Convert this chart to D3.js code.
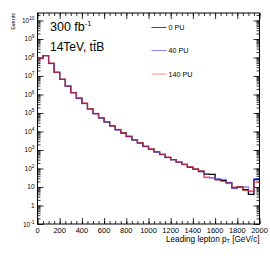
<!DOCTYPE html>
<html>
<head>
<meta charset="utf-8">
<script src="https://cdn.jsdelivr.net/npm/d3@7"></script>
<style>
  body { margin: 0; background: #fff; }
  text { font-family: "Liberation Sans", Arial, Helvetica, sans-serif; fill: #000; }
</style>
</head>
<body>
<svg width="270" height="259"></svg>
<script>
// bins are 50 GeV wide, 0 - 2000
var binWidth = 50;
var binLow = d3.range(0, 2000, binWidth);

var pu0 = [8.9e7, 1.26e8, 4.8e7, 1.58e7, 6.6e6, 2.8e6, 1.26e6, 6.3e5, 3.3e5, 1.66e5,
           9.3e4, 5.5e4, 3.3e4, 2.0e4, 1.26e4, 8300, 5400, 3550, 2400, 1580,
           1120, 790, 575, 400, 300, 220, 166, 120, 93, 71,
           50, 48, 25, 22, 16.6, 8.9, 10, 7.1, 4.0, 25];
var pu40 = [8.8e7, 1.25e8, 4.7e7, 1.6e7, 6.5e6, 2.75e6, 1.24e6, 6.0e5, 3.2e5, 1.62e5,
            9.0e4, 5.3e4, 3.2e4, 2.05e4, 1.2e4, 8000, 5200, 3500, 2300, 1540,
            1080, 760, 560, 390, 290, 215, 160, 118, 90, 66,
            32, 30, 28, 26, 18, 8.5, 9.6, 10, 5.6, 28];
var pu140 = [9.0e7, 1.27e8, 4.9e7, 1.55e7, 6.7e6, 2.85e6, 1.28e6, 6.5e5, 3.4e5, 1.7e5,
             9.6e4, 5.6e4, 3.4e4, 1.95e4, 1.3e4, 8500, 5600, 3600, 2450, 1620,
             1150, 810, 590, 410, 305, 225, 170, 125, 95, 72,
             35, 32, 24, 20, 16, 10, 10, 6.6, 6.3, 17.8];

var seriesNames = ["0 PU", "40 PU", "140 PU"];
var seriesColors = ["#000000", "#3333ff", "#ff3333"];
var seriesOpacity = [1, 0.6, 0.6];

var xTicks = [0, 200, 400, 600, 800, 1000, 1200, 1400, 1600, 1800, 2000];
var yExponents = [-1, 0, 1, 2, 3, 4, 5, 6, 7, 8, 9, 10];

var svg = d3.select("svg");
var padL = 37.5, padR = 259.5, padT = 13, padB = 224;

var x = d3.scaleLinear().domain([0, 2000]).range([padL, padR]);
var y = d3.scaleLog().domain([0.1, 2.54e10]).range([padB, padT]);

// ---- axes (ROOT style, ticks pointing inward) ----
var minorX = d3.range(0, 2001, 50);
var minorY = [];
for (var e = -1; e <= 10; e++) {
  for (var m = 1; m < 10; m++) {
    var v = m * Math.pow(10, e);
    if (v <= 2.54e10) minorY.push(v);
  }
}

function addAxis(axis, tx, ty) {
  var g = svg.append("g").attr("transform", "translate(" + tx + "," + ty + ")").call(axis);
  g.select(".domain").remove();
  g.selectAll("text").remove();
  g.selectAll("line").attr("stroke", "#000").attr("stroke-width", 0.8);
  return g;
}

addAxis(d3.axisBottom(x).tickValues(xTicks).tickSize(-6).tickFormat(""), 0, padB);
addAxis(d3.axisBottom(x).tickValues(minorX).tickSize(-3).tickFormat(""), 0, padB);
addAxis(d3.axisTop(x).tickValues(xTicks).tickSize(-6).tickFormat(""), 0, padT);
addAxis(d3.axisTop(x).tickValues(minorX).tickSize(-3).tickFormat(""), 0, padT);

var majorY = yExponents.map(function (e) { return Math.pow(10, e); });
addAxis(d3.axisLeft(y).tickValues(majorY).tickSize(-6).tickFormat(""), padL, 0);
addAxis(d3.axisLeft(y).tickValues(minorY).tickSize(-3).tickFormat(""), padL, 0);
addAxis(d3.axisRight(y).tickValues(majorY).tickSize(-6).tickFormat(""), padR, 0);
addAxis(d3.axisRight(y).tickValues(minorY).tickSize(-3).tickFormat(""), padR, 0);

// frame
svg.append("rect")
  .attr("x", padL).attr("y", padT)
  .attr("width", padR - padL).attr("height", padB - padT)
  .attr("fill", "none").attr("stroke", "#000").attr("stroke-width", 1);

// x tick labels
svg.append("g").selectAll("text")
  .data(xTicks)
  .enter().append("text")
  .attr("x", function (d) { return x(d); })
  .attr("y", padB + 9)
  .attr("text-anchor", "middle")
  .attr("font-size", 7.5)
  .text(function (d) { return d; });

// y tick labels: 10^e
var ylab = svg.append("g").selectAll("text")
  .data(yExponents)
  .enter().append("text")
  .attr("x", 34.5)
  .attr("y", function (d) { return y(Math.pow(10, d)) + 2.5; })
  .attr("text-anchor", "end")
  .attr("font-size", 6.5);
ylab.each(function (d) {
  var t = d3.select(this);
  if (d === 0) { t.text("1"); return; }
  t.append("tspan").text("10");
  if (d !== 1) {
    t.append("tspan").attr("dy", -3).attr("font-size", 4.8).text(d);
  }
});

// axis titles
var xt = svg.append("text")
  .attr("x", padR).attr("y", 241.5)
  .attr("text-anchor", "end")
  .attr("font-size", 8.2);
xt.append("tspan").text("Leading lepton p");
xt.append("tspan").attr("dy", 1.8).attr("font-size", 5.5).text("T");
xt.append("tspan").attr("dy", -1.8).text(" [GeV/c]");

svg.append("text")
  .attr("transform", "translate(15,13) rotate(-90)")
  .attr("text-anchor", "end")
  .attr("font-size", 5.5)
  .text("Events");

// ---- histograms ----
var line = d3.line()
  .x(function (d) { return x(d[0]); })
  .y(function (d) { return y(d[1]); })
  .curve(d3.curveStepAfter);

[pu0, pu40, pu140].forEach(function (vals, i) {
  var pts = binLow.map(function (b, j) { return [b, vals[j]]; });
  pts.push([2000, vals[vals.length - 1]]);
  svg.append("path")
    .datum(pts)
    .attr("d", line)
    .attr("fill", "none")
    .attr("stroke", seriesColors[i])
    .attr("stroke-opacity", seriesOpacity[i])
    .attr("stroke-width", 1.3);
});

// ---- labels ----
var t1 = svg.append("text").attr("x", 50).attr("y", 30.5).attr("font-size", 12.5);
t1.append("tspan").text("300 fb");
t1.append("tspan").attr("dy", -5).attr("font-size", 7.5).text("-1");

svg.append("text").attr("x", 50).attr("y", 50.5).attr("font-size", 12)
  .text("14TeV, tt\u0304B");

// legend
var legY = [27.5, 50.5, 74];
var leg = svg.append("g").selectAll("g")
  .data(seriesNames)
  .enter().append("g");
leg.append("line")
  .attr("x1", 151.5).attr("x2", 166.5)
  .attr("y1", function (d, i) { return legY[i]; })
  .attr("y2", function (d, i) { return legY[i]; })
  .attr("stroke", function (d, i) { return seriesColors[i]; })
  .attr("stroke-opacity", function (d, i) { return i === 0 ? 0.7 : seriesOpacity[i]; })
  .attr("stroke-width", 1);
leg.append("text")
  .attr("x", 168.5)
  .attr("y", function (d, i) { return legY[i] + 2.6; })
  .attr("font-size", 7.2)
  .text(function (d) { return d; });
</script>
</body>
</html>
